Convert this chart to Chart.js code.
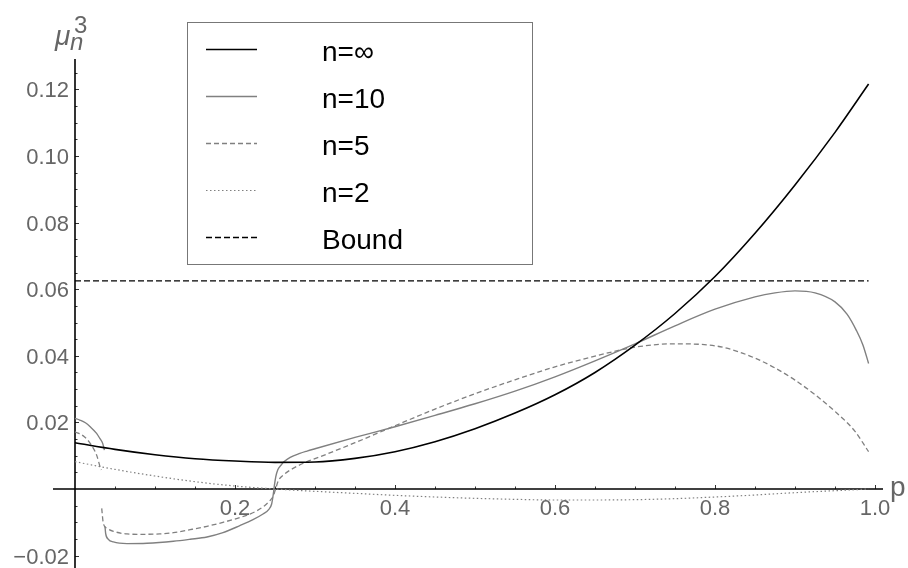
<!DOCTYPE html>
<html>
<head>
<meta charset="utf-8">
<script src="https://cdn.jsdelivr.net/npm/chart.js@4.4.1/dist/chart.umd.min.js"></script>
<style>
    html, body { margin: 0; padding: 0; background: #fff; }
    #wrap { width: 908px; height: 568px; }
</style>
</head>
<body>
<div id="wrap"><canvas id="momentChart" width="908" height="568"></canvas></div>
<script>
// values; null marks a break in a curve
const pInf = [0, 0.05, 0.10, 0.15, 0.20, 0.25, 0.30, 0.35, 0.40, 0.45, 0.50, 0.55, 0.60, 0.65, 0.70, 0.75, 0.80, 0.85, 0.90, 0.95, 0.992];
const muInf = [0.0139, 0.0119, 0.0103, 0.0091, 0.0084, 0.0080, 0.0081, 0.0092, 0.0112, 0.0142, 0.0181, 0.0228, 0.0283, 0.0350, 0.0432, 0.0527, 0.0638, 0.0768, 0.0913, 0.1071, 0.1216];

const pN10 = [0, 0.006, 0.013, 0.019, 0.027, 0.031, 0.0346, 0.0367, 0.0371, 0.0375, 0.0383, 0.0417, 0.048, 0.065, 0.09, 0.123, 0.144, 0.165, 0.185, 0.206, 0.2225, 0.235, 0.242, 0.2458, 0.2479, 0.2492, 0.251, 0.2535, 0.258, 0.2604, 0.269, 0.281, 0.29, 0.30, 0.35, 0.40, 0.45, 0.50, 0.55, 0.60, 0.65, 0.70, 0.75, 0.80, 0.85, 0.875, 0.90, 0.925, 0.95, 0.965, 0.977, 0.985, 0.992];
const muN10 = [0.0212, 0.0207, 0.0199, 0.0187, 0.0167, 0.0152, 0.0137, 0.0117, null, -0.0113, -0.0133, -0.0151, -0.0159, -0.0164, -0.0163, -0.0157, -0.0151, -0.0144, -0.0131, -0.0110, -0.0092, -0.0075, -0.0062, -0.0045, -0.0015, 0.0010, 0.0037, 0.0058, 0.0073, 0.0080, 0.0095, 0.0107, 0.0114, 0.0121, 0.0155, 0.0187, 0.0221, 0.0256, 0.0294, 0.0337, 0.0385, 0.0436, 0.0490, 0.0540, 0.0577, 0.0589, 0.0595, 0.0589, 0.0562, 0.0525, 0.0475, 0.0432, 0.0377];

const pN5 = [0, 0.0117, 0.019, 0.027, 0.032, 0.033, 0.0332, 0.0334, 0.0354, 0.040, 0.048, 0.065, 0.081, 0.106, 0.123, 0.144, 0.165, 0.185, 0.206, 0.227, 0.237, 0.244, 0.248, 0.251, 0.254, 0.262, 0.269, 0.29, 0.30, 0.35, 0.40, 0.45, 0.50, 0.55, 0.60, 0.65, 0.70, 0.75, 0.80, 0.85, 0.90, 0.95, 0.975, 0.992];
const muN5 = [0.0172, 0.0157, 0.0137, 0.0102, 0.0062, 0.0057, null, -0.0058, -0.0103, -0.0118, -0.0127, -0.0135, -0.0136, -0.0135, -0.0131, -0.0122, -0.0112, -0.0100, -0.0086, -0.0066, -0.0050, -0.0034, -0.0020, 0.0002, 0.0024, 0.0045, 0.0057, 0.0082, 0.0091, 0.0139, 0.0190, 0.0240, 0.0286, 0.0328, 0.0367, 0.0399, 0.0426, 0.0436, 0.0430, 0.0393, 0.0327, 0.0233, 0.0173, 0.0112];

const pN2 = [0, 0.05, 0.10, 0.15, 0.20, 0.25, 0.30, 0.35, 0.40, 0.45, 0.50, 0.55, 0.60, 0.65, 0.70, 0.75, 0.80, 0.85, 0.90, 0.95, 0.992];
const muN2 = [0.0082, 0.0059, 0.0039, 0.0022, 0.0009, 0.0000, -0.0007, -0.0013, -0.0019, -0.0024, -0.0028, -0.0031, -0.0033, -0.0033, -0.0032, -0.0029, -0.0024, -0.0018, -0.0011, -0.0005, 0.0000];

const pBound = [0, 0.992];
const muBound = [0.0625, 0.0625];

const seriesLabels = ['n=\u221e', 'n=10', 'n=5', 'n=2', 'Bound'];

const xTickValues = [0.2, 0.4, 0.6, 0.8, 1.0];
const xTickLabels = ['0.2', '0.4', '0.6', '0.8', '1.0'];
const yTickValues = [-0.02, 0.02, 0.04, 0.06, 0.08, 0.10, 0.12];
const yTickLabels = ['\u22120.02', '0.02', '0.04', '0.06', '0.08', '0.10', '0.12'];

const FONT = "'Liberation Sans', Arial, sans-serif";
const GRAY = '#808080';
const LABEL_GRAY = '#666666';

function toPoints(ps, vals) {
    return ps.map((p, i) => ({ x: p, y: vals[i] }));
}

function strokeLine(ctx, x1, y1, x2, y2) {
    ctx.beginPath();
    ctx.moveTo(x1, y1);
    ctx.lineTo(x2, y2);
    ctx.stroke();
}

// axes crossing at the origin, drawn from the chart's own scales
const originAxes = {
    id: 'originAxes',
    beforeDatasetsDraw(chart) {
        const { ctx, chartArea, scales: { x, y } } = chart;
        const x0 = x.getPixelForValue(0);
        const y0 = y.getPixelForValue(0);
        ctx.save();
        ctx.strokeStyle = '#333';
        ctx.lineWidth = 1;
        // ticks every 0.05 on p, every 0.005 on mu
        for (let i = 1; i <= 20; i++) {
            const px = Math.round(x.getPixelForValue(i * 0.05)) + 0.5;
            strokeLine(ctx, px, y0, px, y0 - (i % 4 === 0 ? 4 : 2.5));
        }
        for (let i = -4; i <= 25; i++) {
            if (i === 0) continue;
            const py = Math.round(y.getPixelForValue(i * 0.005)) + 0.5;
            strokeLine(ctx, x0, py, x0 + (i % 4 === 0 ? 4 : 2.5), py);
        }
        ctx.strokeStyle = '#000';
        ctx.lineWidth = 1.6;
        strokeLine(ctx, chartArea.left, y0, chartArea.right, y0);
        strokeLine(ctx, x0, chartArea.top, x0, chartArea.bottom);
        ctx.restore();
    },
    afterDraw(chart) {
        const { ctx, scales: { x, y } } = chart;
        const x0 = x.getPixelForValue(0);
        const y0 = y.getPixelForValue(0);
        ctx.save();
        ctx.fillStyle = LABEL_GRAY;
        ctx.font = '22px ' + FONT;
        ctx.textBaseline = 'alphabetic';
        ctx.textAlign = 'center';
        xTickValues.forEach((v, i) => ctx.fillText(xTickLabels[i], x.getPixelForValue(v), y0 + 26));
        ctx.textAlign = 'right';
        yTickValues.forEach((v, i) => ctx.fillText(yTickLabels[i], x0 - 6, y.getPixelForValue(v) + 8));

        // axis labels
        ctx.textAlign = 'left';
        ctx.font = '28px ' + FONT;
        ctx.fillText('p', 890, y0 + 7);
        ctx.font = 'italic 28px ' + FONT;
        ctx.fillText('\u03bc', 55, 45);
        ctx.font = 'italic 24px ' + FONT;
        ctx.fillText('n', 70, 50);
        ctx.font = '24px ' + FONT;
        ctx.fillText('3', 74, 33);

        // legend box
        const box = { left: 187.5, top: 22.5, right: 532.5, bottom: 264.5 };
        ctx.fillStyle = '#fff';
        ctx.fillRect(box.left, box.top, box.right - box.left, box.bottom - box.top);
        ctx.strokeStyle = '#777';
        ctx.lineWidth = 1;
        ctx.strokeRect(box.left, box.top, box.right - box.left, box.bottom - box.top);
        ctx.font = '28px ' + FONT;
        ctx.fillStyle = '#000';
        chart.data.datasets.forEach((ds, i) => {
            const rowY = 49.5 + i * 47;
            ctx.save();
            ctx.strokeStyle = ds.borderColor;
            ctx.lineWidth = ds.borderWidth;
            ctx.setLineDash(ds.borderDash || []);
            strokeLine(ctx, 206, rowY, 257, rowY);
            ctx.restore();
            ctx.fillText(ds.label, 322, rowY + 11);
        });
        ctx.restore();
    }
};

const ctx = document.getElementById('momentChart');

const momentChart = new Chart(ctx, {
    type: 'line',
    data: {
        datasets: [{
            label: seriesLabels[0],
            data: toPoints(pInf, muInf),
            borderColor: '#000',
            borderWidth: 1.6
        }, {
            label: seriesLabels[1],
            data: toPoints(pN10, muN10),
            borderColor: GRAY,
            borderWidth: 1.4
        }, {
            label: seriesLabels[2],
            data: toPoints(pN5, muN5),
            borderColor: GRAY,
            borderWidth: 1.3,
            borderDash: [5, 3]
        }, {
            label: seriesLabels[3],
            data: toPoints(pN2, muN2),
            borderColor: GRAY,
            borderWidth: 1.2,
            borderDash: [1.5, 2.5]
        }, {
            label: seriesLabels[4],
            data: toPoints(pBound, muBound),
            borderColor: '#000',
            borderWidth: 1.3,
            borderDash: [6, 3]
        }]
    },
    options: {
        responsive: false,
        animation: false,
        devicePixelRatio: 1,
        spanGaps: false,
        layout: {
            padding: { left: 53, right: 25, top: 59, bottom: 0 }
        },
        elements: {
            point: { radius: 0 },
            line: { cubicInterpolationMode: 'monotone', fill: false }
        },
        scales: {
            x: {
                type: 'linear',
                display: false,
                min: -0.0275,
                max: 1.01
            },
            y: {
                type: 'linear',
                display: false,
                min: -0.02372,
                max: 0.12913
            }
        },
        plugins: {
            legend: { display: false },
            tooltip: { enabled: false }
        }
    },
    plugins: [originAxes]
});
</script>
</body>
</html>
